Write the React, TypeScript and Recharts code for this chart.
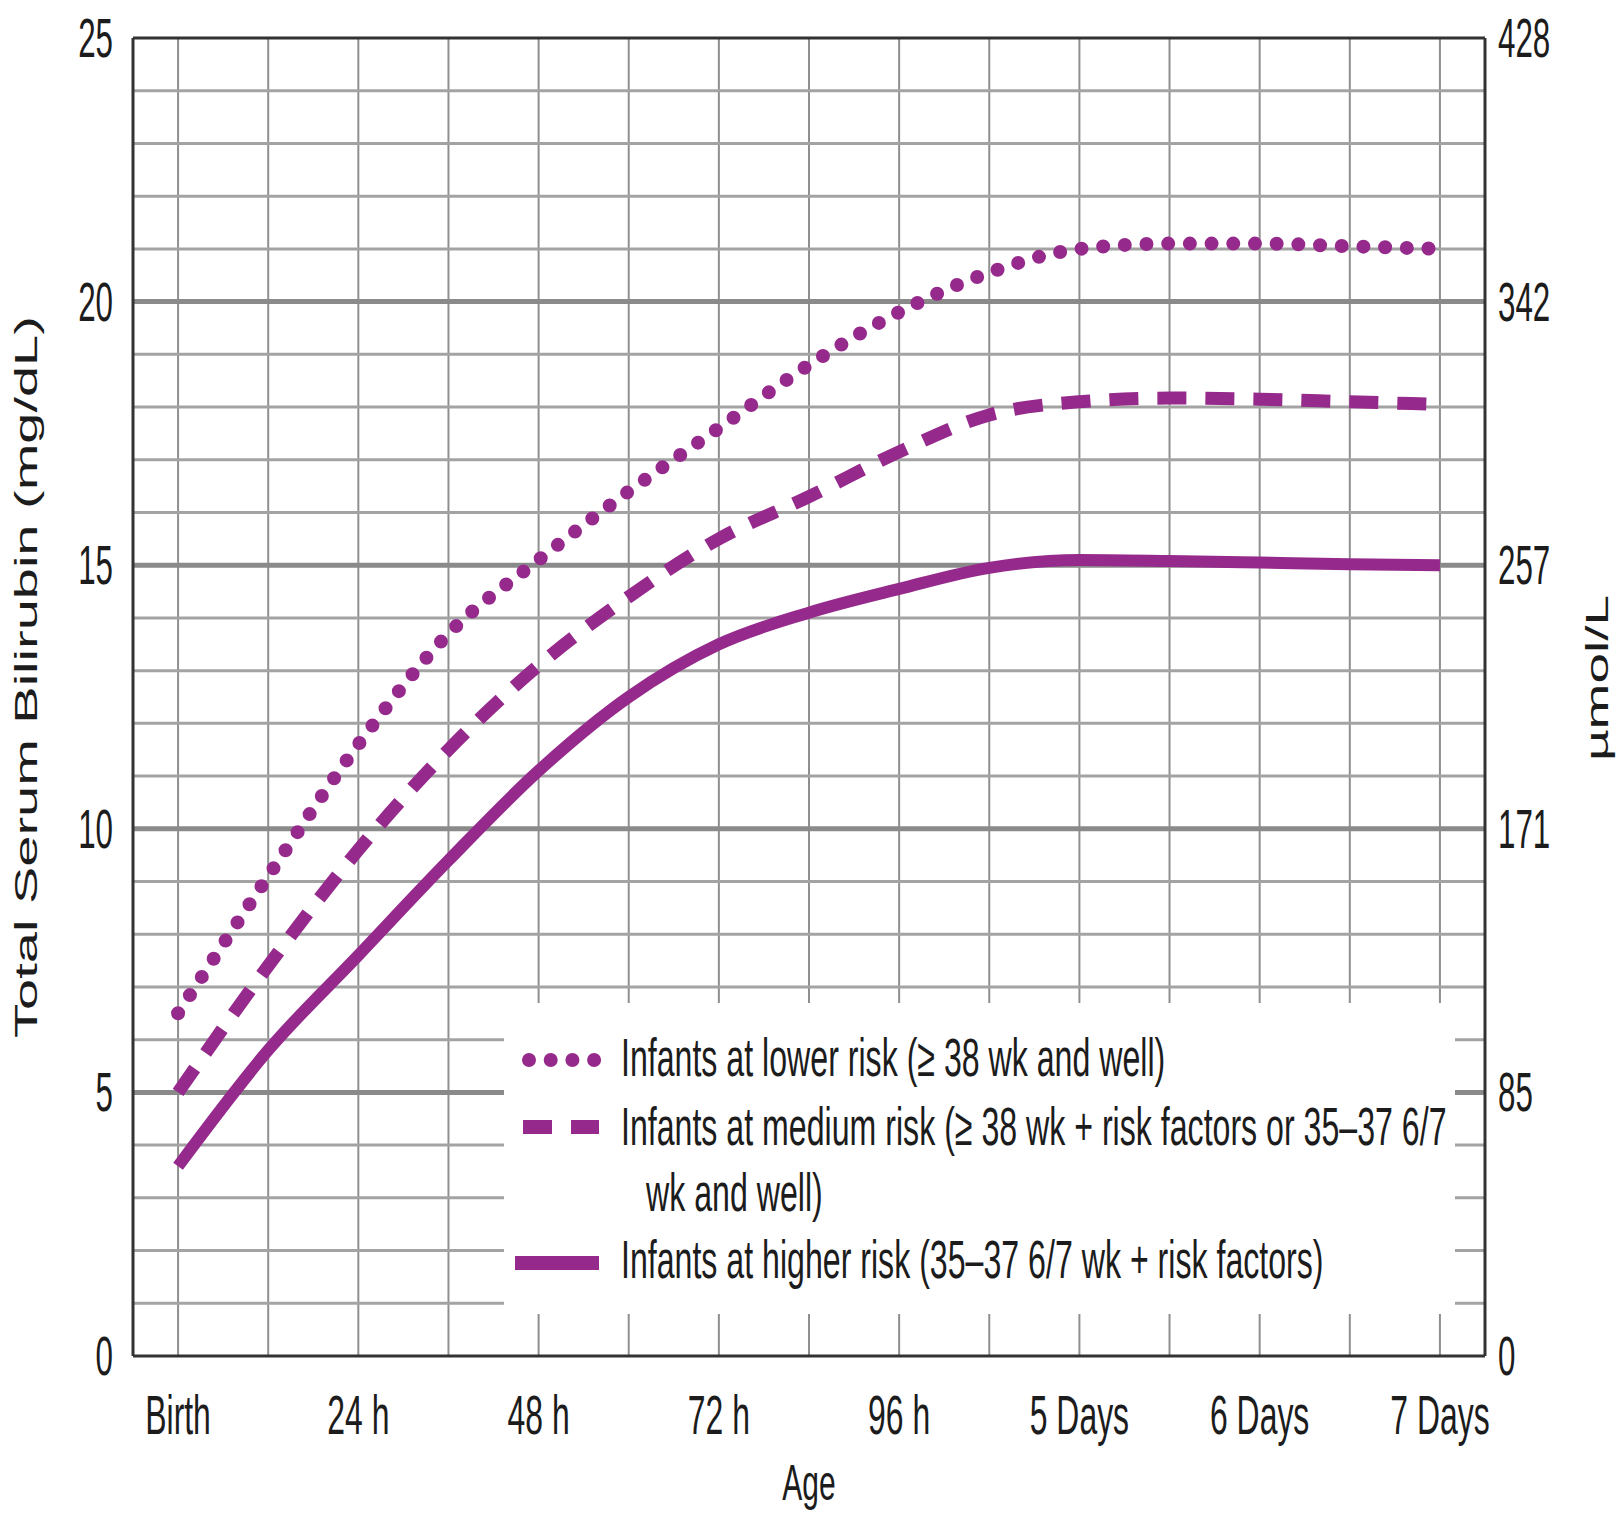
import React from "react";
import { LineChart, Line, XAxis, YAxis, ReferenceLine, Legend } from "recharts";

// age in hours after birth
const hours = [0, 12, 24, 36, 48, 60, 72, 84, 96, 108, 120, 132, 144, 156, 168];

// total serum bilirubin, mg/dL
const lowerRisk = [6.5, 9.1, 11.6, 13.7, 15.1, 16.4, 17.6, 18.8, 19.8, 20.55, 21.0, 21.1, 21.1, 21.05, 21.0];
const mediumRisk = [5.0, 7.4, 9.6, 11.5, 13.1, 14.4, 15.5, 16.3, 17.15, 17.85, 18.1, 18.17, 18.15, 18.1, 18.05];
const higherRisk = [3.6, 5.8, 7.6, 9.4, 11.1, 12.5, 13.5, 14.1, 14.55, 14.95, 15.1, 15.08, 15.05, 15.02, 15.0];

const xTicks = [0, 24, 48, 72, 96, 120, 144, 168];
const xTickLabels = ["Birth", "24 h", "48 h", "72 h", "96 h", "5 Days", "6 Days", "7 Days"];
const yTicks = [0, 5, 10, 15, 20, 25];
const umolTickLabels = ["0", "85", "171", "257", "342", "428"];

const minorLevels = [1, 2, 3, 4, 6, 7, 8, 9, 11, 12, 13, 14, 16, 17, 18, 19, 21, 22, 23, 24];
const majorLevels = [5, 10, 15, 20];

const seriesKeys = ["lower", "medium", "higher"];
const legendLines = [
  ["Infants at lower risk (≥ 38 wk and well)"],
  ["Infants at medium risk (≥ 38 wk + risk factors or 35–37 6/7", "wk and well)"],
  ["Infants at higher risk (35–37 6/7 wk + risk factors)"],
];

const data = hours.map((h, i) => ({
  hour: h,
  lower: lowerRisk[i],
  medium: mediumRisk[i],
  higher: higherRisk[i],
}));

const PURPLE = "#962a8c";
const INK = "#1c1c1c";
const FONT = '"Liberation Sans", Arial, Helvetica, sans-serif';

const lineStyles: Record<string, { dash?: string; cap: "round" | "butt"; width: number; axis: string }> = {
  lower: { dash: "0 21.7", cap: "round", width: 14, axis: "left" },
  medium: { dash: "29 19", cap: "butt", width: 13, axis: "left" },
  // same 0–25 domain on both sides; this one keeps the µmol/L axis populated
  higher: { cap: "butt", width: 12, axis: "right" },
};

// the source figure is squeezed sideways, so all text is narrowed
function Squeezed({ x, y, anchor = "middle", size = 54, sx = 0.57, children }: any) {
  return (
    <g transform={`translate(${x},${y})`}>
      <text transform={`scale(${sx},1)`} textAnchor={anchor} fontSize={size} fontFamily={FONT} fill={INK}>
        {children}
      </text>
    </g>
  );
}

function tickIndex(list: number[], value: any) {
  const v = Number(value);
  return list.findIndex((t) => Math.abs(t - v) < 1e-6);
}

function LeftTick({ x, y, payload }: any) {
  return (
    <Squeezed x={x} y={y + 19} anchor="end" size={55}>
      {String(payload.value)}
    </Squeezed>
  );
}

function RightTick({ x, y, payload }: any) {
  const i = tickIndex(yTicks, payload.value);
  return (
    <Squeezed x={x} y={y + 19} anchor="start" size={55}>
      {i >= 0 ? umolTickLabels[i] : String(payload.value)}
    </Squeezed>
  );
}

function BottomTick({ x, y, payload }: any) {
  const i = tickIndex(xTicks, payload.value);
  return (
    <Squeezed x={x} y={y + 78} size={56}>
      {i >= 0 ? xTickLabels[i] : String(payload.value)}
    </Squeezed>
  );
}

function VerticalTitle({ cx, cy, text, size = 55 }: { cx: number; cy: number; text: string; size?: number }) {
  return (
    <text
      transform={`translate(${cx},${cy}) rotate(-90) scale(1,0.57)`}
      textAnchor="middle"
      fontSize={size}
      fontFamily={FONT}
      fill={INK}
    >
      {text}
    </text>
  );
}

function RiskLegend({ payload }: any) {
  const sampleY = [57, 124, 260];
  const baselines = [[73], [142, 208], [275]];
  const entries = payload || [];
  return (
    <svg width={951} height={311} style={{ display: "block", background: "#fff" }}>
      {entries.map((entry: any) => {
        const i = seriesKeys.indexOf(entry.dataKey);
        if (i < 0) return null;
        const st = lineStyles[entry.dataKey];
        const x1 = i === 0 ? 25 : i === 1 ? 19 : 11;
        const x2 = i === 0 ? 91 : 95;
        return (
          <g key={entry.dataKey}>
            <line
              x1={x1}
              x2={x2}
              y1={sampleY[i]}
              y2={sampleY[i]}
              stroke={PURPLE}
              strokeWidth={14}
              strokeDasharray={st.dash}
              strokeLinecap={st.cap}
            />
            {legendLines[i].map((t, j) => (
              <Squeezed key={j} x={j === 0 ? 117 : 142} y={baselines[i][j]} anchor="start" sx={0.595}>
                {t}
              </Squeezed>
            ))}
          </g>
        );
      })}
    </svg>
  );
}

export default function App() {
  return (
    <div style={{ position: "absolute", left: 0, top: 0, background: "#fff" }}>
      <LineChart width={1620} height={1518} data={data} margin={{ top: 38, right: 0, bottom: 0, left: 0 }}>
        <XAxis
          dataKey="hour"
          type="number"
          domain={[-6, 174]}
          ticks={xTicks}
          interval={0}
          height={162}
          tickSize={0}
          tickMargin={0}
          tickLine={false}
          axisLine={{ stroke: "#333", strokeWidth: 3 }}
          tick={BottomTick}
          label={{
            value: "Age",
            content: (p: any) => {
              const vb = p.viewBox || { x: 133, y: 1356, width: 1352 };
              return (
                <Squeezed x={vb.x + vb.width / 2} y={vb.y + 144} size={50} sx={0.6}>
                  Age
                </Squeezed>
              );
            },
          }}
        />
        <YAxis
          yAxisId="left"
          type="number"
          domain={[0, 25]}
          ticks={yTicks}
          interval={0}
          width={133}
          tickSize={0}
          tickMargin={20}
          tickLine={false}
          axisLine={{ stroke: "#333", strokeWidth: 3 }}
          tick={LeftTick}
          label={{
            value: "Total Serum Bilirubin (mg/dL)",
            content: (p: any) => {
              const vb = p.viewBox || { x: 0, y: 38, height: 1318 };
              return (
                <VerticalTitle cx={vb.x + 37} cy={vb.y + vb.height / 2 - 20} size={56} text="Total Serum Bilirubin (mg/dL)" />
              );
            },
          }}
        />
        <YAxis
          yAxisId="right"
          orientation="right"
          type="number"
          domain={[0, 25]}
          ticks={yTicks}
          interval={0}
          width={135}
          tickSize={0}
          tickMargin={13}
          tickLine={false}
          axisLine={{ stroke: "#333", strokeWidth: 3 }}
          tick={RightTick}
          label={{
            value: "µmol/L",
            content: (p: any) => {
              const vb = p.viewBox || { x: 1485, y: 38, width: 135, height: 1318 };
              return <VerticalTitle cx={vb.x + 123} cy={vb.y + vb.height / 2 - 19} text="µmol/L" />;
            },
          }}
        />

        {hours.map((h) => (
          <ReferenceLine key={`v${h}`} yAxisId="left" x={h} stroke="#8f8f8f" strokeWidth={2} zIndex={-60} />
        ))}
        {minorLevels.map((v) => (
          <ReferenceLine key={`m${v}`} yAxisId="left" y={v} stroke="#a3a3a3" strokeWidth={3} zIndex={-55} />
        ))}
        {majorLevels.map((v) => (
          <ReferenceLine key={`M${v}`} yAxisId="left" y={v} stroke="#8a8a8a" strokeWidth={5} zIndex={-55} />
        ))}
        <ReferenceLine yAxisId="left" y={25} stroke="#333" strokeWidth={3} zIndex={-50} />

        <Legend
          layout="horizontal"
          verticalAlign="middle"
          align="center"
          content={RiskLegend}
          wrapperStyle={{ left: 504, top: 1003, width: 951, height: 311, background: "#fff" }}
        />

        {seriesKeys.map((k, i) => (
          <Line
            key={k}
            yAxisId={lineStyles[k].axis}
            dataKey={k}
            name={legendLines[i].join(" ")}
            type="monotone"
            stroke={PURPLE}
            strokeWidth={lineStyles[k].width}
            strokeDasharray={lineStyles[k].dash}
            strokeLinecap={lineStyles[k].cap}
            dot={false}
            activeDot={false}
            legendType="line"
            isAnimationActive={false}
          />
        ))}
      </LineChart>
    </div>
  );
}
